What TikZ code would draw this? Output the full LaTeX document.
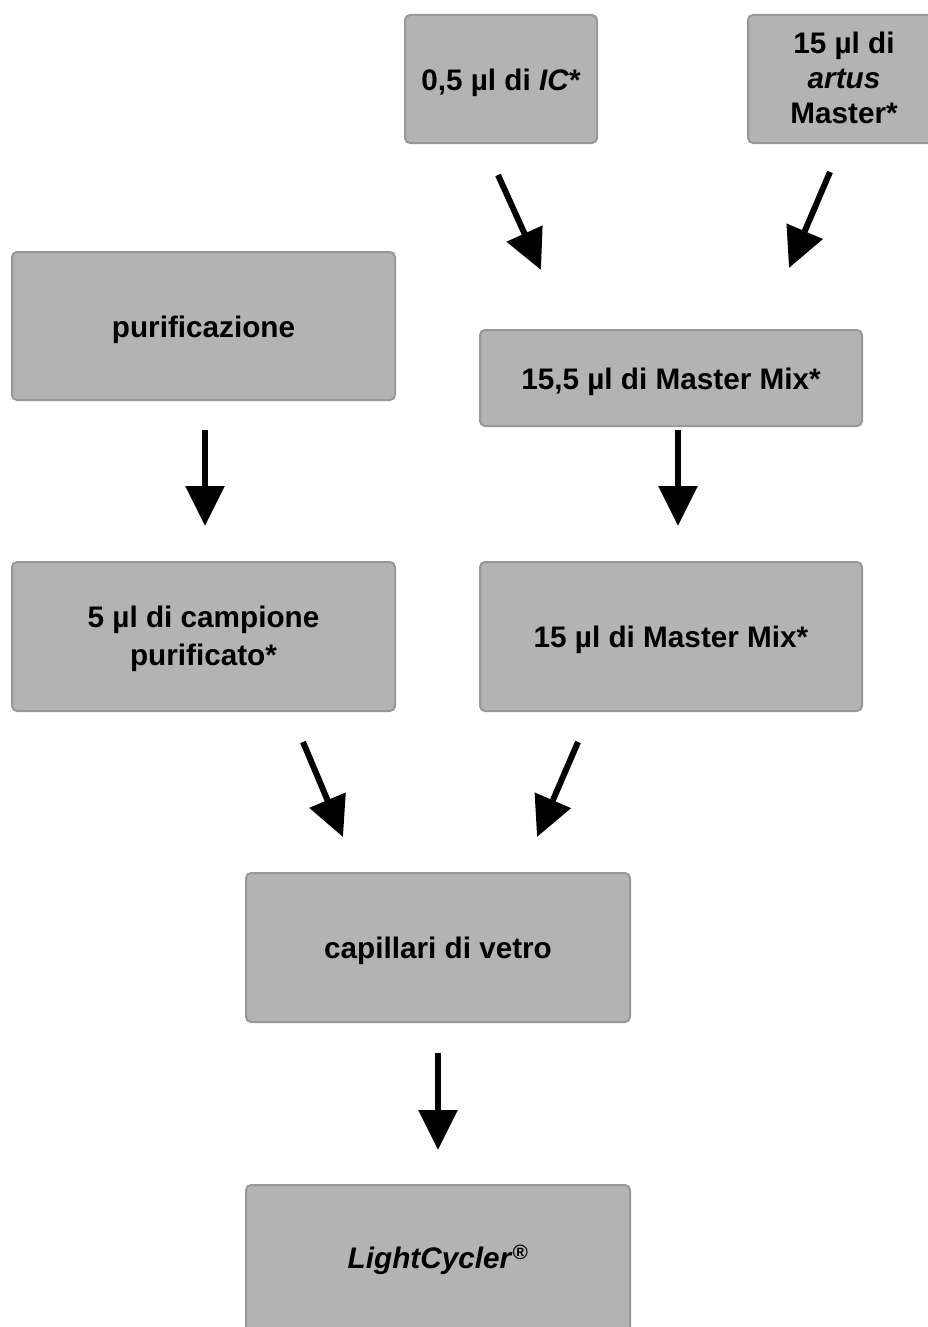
\documentclass[tikz,border=0pt]{standalone}
\usepackage{fontspec}
\setmainfont{Liberation Sans}
\usetikzlibrary{arrows.meta}
\definecolor{boxfill}{HTML}{B3B3B3}
\definecolor{boxline}{HTML}{989898}
\newcommand{\boxtext}[2][10pt]{\raisebox{-#1}[0pt][0pt]{\begin{tabular}{@{}c@{}}#2\end{tabular}}}
\begin{document}
\begin{tikzpicture}[x=1pt,y=1pt,
  box/.style={draw=boxline, line width=2pt, fill=boxfill, rounded corners=5pt,
    inner sep=0pt,
    font=\fontsize{29.7}{37}\selectfont\bfseries},
  flow/.style={line width=6pt, -{Triangle[length=40pt,width=38pt]}}]
\useasboundingbox (0,0) rectangle (927,-1327);
\node[box, minimum width=192pt, minimum height=128pt] (ic) at (501,-79) {\boxtext{0,5 µl di \textit{IC}*}};
\node[box, minimum width=192pt, minimum height=128pt, font=\fontsize{29.7}{35}\selectfont\bfseries] (artus) at (844,-79) {\boxtext[9pt]{15 µl di\\\textit{artus}\\Master*}};
\node[box, minimum width=383pt, minimum height=148pt] (puri) at (203.5,-326) {\boxtext{purificazione}};
\node[box, minimum width=382pt, minimum height=96pt] (mmA) at (671,-378) {\boxtext{15,5 µl di Master Mix*}};
\node[box, minimum width=383pt, minimum height=149pt, font=\fontsize{29.7}{38}\selectfont\bfseries] (camp) at (203.5,-636.5) {\boxtext[8.5pt]{5 µl di campione\\purificato*}};
\node[box, minimum width=382pt, minimum height=149pt] (mmB) at (671,-636.5) {\boxtext{15 µl di Master Mix*}};
\node[box, minimum width=384pt, minimum height=149pt] (cap) at (438,-947.5) {\boxtext{capillari di vetro}};
\node[box, minimum width=384pt, minimum height=149pt] (lc) at (438,-1259.5) {\boxtext[8pt]{\textit{LightCycler}\textsuperscript{\textit{®}}}};

\coordinate (a1s) at (498,-175); \coordinate (a1e) at (541,-270);
\coordinate (a2s) at (830,-172); \coordinate (a2e) at (789,-268);
\coordinate (a3s) at (205,-430); \coordinate (a3e) at (205,-526);
\coordinate (a4s) at (678,-430); \coordinate (a4e) at (678,-526);
\coordinate (a5s) at (303,-742); \coordinate (a5e) at (343,-837);
\coordinate (a6s) at (578,-742); \coordinate (a6e) at (537,-837);
\coordinate (a7s) at (438,-1053); \coordinate (a7e) at (438,-1150);
\draw[flow] (a1s) -- (a1e);
\draw[flow] (a2s) -- (a2e);
\draw[flow] (a3s) -- (a3e);
\draw[flow] (a4s) -- (a4e);
\draw[flow] (a5s) -- (a5e);
\draw[flow] (a6s) -- (a6e);
\draw[flow] (a7s) -- (a7e);
\end{tikzpicture}
\end{document}
